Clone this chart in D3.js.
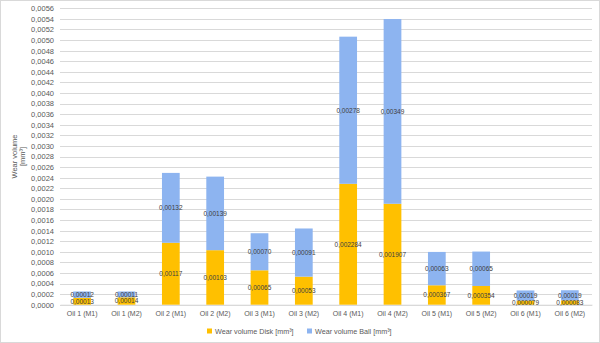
<!DOCTYPE html>
<html><head><meta charset="utf-8">
<script src="https://cdn.jsdelivr.net/npm/d3@7"></script>
<style>body{margin:0;background:#fff}svg{display:block;font-family:"Liberation Sans",Arial,sans-serif}</style>
</head><body><svg id="c" width="600" height="343"></svg>
<script>
const categories = ["Oil 1 (M1)","Oil 1 (M2)","Oil 2 (M1)","Oil 2 (M2)","Oil 3 (M1)","Oil 3 (M2)","Oil 4 (M1)","Oil 4 (M2)","Oil 5 (M1)","Oil 5 (M2)","Oil 6 (M1)","Oil 6 (M2)"];
const diskValues = [0.00013,0.00014,0.00117,0.00103,0.00065,0.00053,0.002284,0.001907,0.000367,0.000354,0.000079,0.000083];
const ballValues = [0.00012,0.00011,0.00132,0.00139,0.00070,0.00091,0.00278,0.00349,0.00063,0.00065,0.00019,0.00019];
const diskLabels = ["0,00013","0,00014","0,00117","0,00103","0,00065","0,00053","0,002284","0,001907","0,000367","0,000354","0,000079","0,000083"];
const ballLabels = ["0,00012","0,00011","0,00132","0,00139","0,00070","0,00091","0,00278","0,00349","0,00063","0,00065","0,00019","0,00019"];
const seriesNames = ["Wear volume Disk [mm³]","Wear volume Ball [mm³]"];
const yTicks = d3.range(0, 29).map(i => i * 0.0002);

(function(){
const svg = d3.select("#c");
const colors = ["#FFC000","#8DB4F0"];
svg.append("rect").attr("x",0.5).attr("y",0.5).attr("width",599).attr("height",342).attr("fill","#fff").attr("stroke","#d9d9d9");

const pLeft = 60, pRight = 592, pTop = 8.3, pBottom = 304.7;
const x = d3.scaleBand().domain(categories).range([pLeft,pRight]).paddingInner(0.6).paddingOuter(0.3);
const y = d3.scaleLinear().domain([0,0.0056]).range([pBottom,pTop]);

svg.append("g").selectAll("line").data(yTicks).join("line")
  .attr("x1",pLeft).attr("x2",pRight).attr("y1",d=>Math.round(y(d))+0.5).attr("y2",d=>Math.round(y(d))+0.5)
  .attr("stroke","#d9d9d9").attr("stroke-width",1);

const yAxis = d3.axisLeft(y).tickValues(yTicks).tickSize(0).tickPadding(6)
  .tickFormat(d => d3.format(".4f")(d).replace(".",","));
const ga = svg.append("g").attr("transform",`translate(${pLeft},0)`).call(yAxis);
ga.select(".domain").remove();
ga.selectAll("text").attr("fill","#595959").attr("font-size","7.5px").attr("font-family","Liberation Sans, Arial, sans-serif");

const xAxis = d3.axisBottom(x).tickSize(0).tickPadding(6);
const gx = svg.append("g").attr("transform",`translate(0,${pBottom})`).call(xAxis);
gx.select(".domain").attr("stroke","#d9d9d9");
gx.selectAll("text").attr("fill","#595959").attr("font-size","7px").attr("font-family","Liberation Sans, Arial, sans-serif");

const rows = categories.map((c,i)=>({cat:c, disk:diskValues[i], ball:ballValues[i], i}));
const stack = d3.stack().keys(["disk","ball"])(rows);
const labelsArr = [diskLabels, ballLabels];
stack.forEach((layer,k)=>{
  svg.append("g").selectAll("rect").data(layer).join("rect")
    .attr("x",d=>x(d.data.cat)).attr("width",x.bandwidth())
    .attr("y",d=>y(d[1])).attr("height",d=>y(d[0])-y(d[1]))
    .attr("fill",colors[k]);
});
stack.forEach((layer,k)=>{
  svg.append("g").selectAll("text").data(layer).join("text")
    .attr("x",d=>x(d.data.cat)+x.bandwidth()/2)
    .attr("y",d=>(y(d[0])+y(d[1]))/2)
    .attr("dy","0.35em").attr("text-anchor","middle")
    .attr("font-size","6.5px").attr("fill","#404040")
    .text(d=>labelsArr[k][d.data.i]);
});

const tt = svg.append("text").attr("transform","translate(18,156.5) rotate(-90)")
  .attr("text-anchor","middle").attr("fill","#595959").attr("font-size","7.5px");
tt.append("tspan").attr("x",0).attr("dy","-0.2em").text("Wear volume");
tt.append("tspan").attr("x",0).attr("dy","1.15em").text("[mm³]");

const lg = svg.append("g");
const legendX = [207, 307];
seriesNames.forEach((n,k)=>{
  lg.append("rect").attr("x",legendX[k]).attr("y",328.5).attr("width",5).attr("height",5).attr("fill",colors[k]);
  lg.append("text").attr("x",legendX[k]+8).attr("y",331).attr("dy","0.35em")
    .attr("font-size","7.2px").attr("fill","#595959").text(n);
});
})();
</script></body></html>
